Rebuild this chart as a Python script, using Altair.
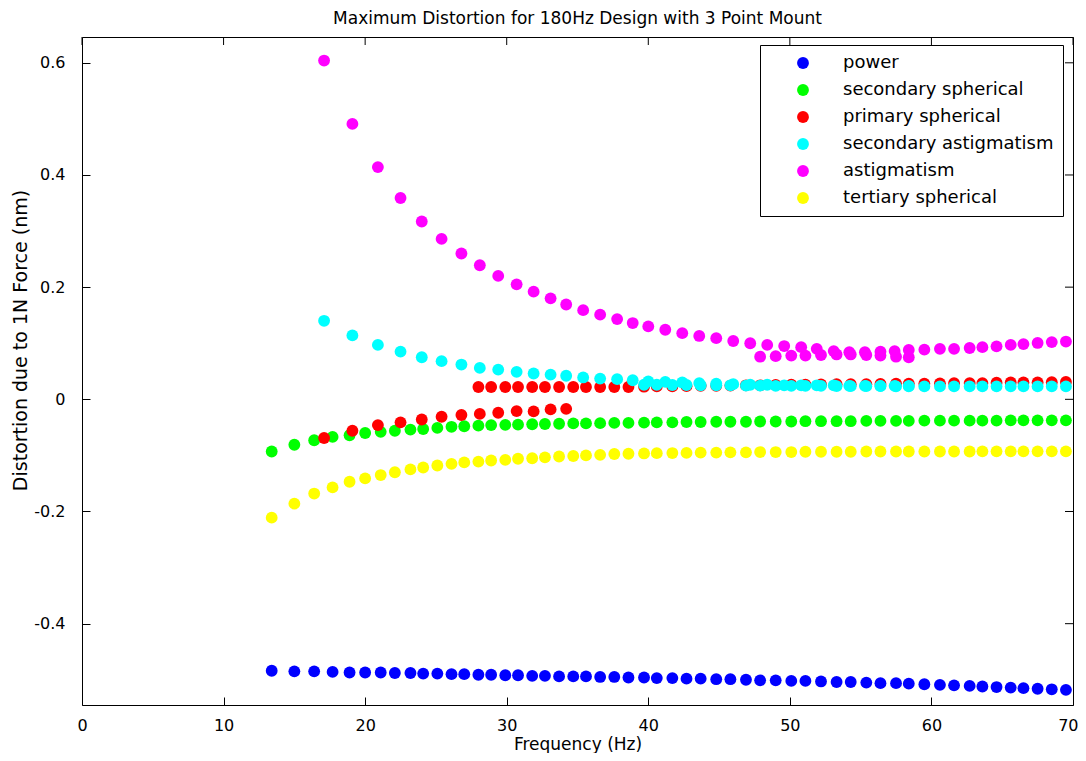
import altair as alt
import pandas as pd

SERIES = ["power", "secondary spherical", "primary spherical",
          "secondary astigmatism", "astigmatism", "tertiary spherical"]
COLORS = ["#0000ff", "#00ff00", "#ff0000", "#00ffff", "#ff00ff", "#ffff00"]

X_TICKS = [0, 10, 20, 30, 40, 50, 60, 70]
Y_TICKS = [-0.4, -0.2, 0, 0.2, 0.4, 0.6]

# frequency grids (Hz)
FREQ_DENSE = [13.4, 15.0, 16.4, 17.7, 18.9, 20.0, 21.1, 22.1, 23.2, 24.1,
              25.1, 26.1, 27.0, 28.0, 28.9, 29.9, 30.8, 31.8, 32.7, 33.7,
              34.7, 35.6, 36.6, 37.6, 38.6, 39.7, 40.6, 41.7, 42.7, 43.7,
              44.8, 45.8, 46.9, 47.9, 49.0, 50.1, 51.1, 52.2, 53.3, 54.3,
              55.4, 56.4, 57.5, 58.4, 59.5, 60.6, 61.6, 62.7, 63.6, 64.6,
              65.6, 66.5, 67.5, 68.5, 69.5]
FREQ_SPARSE = [17.1, 19.1, 20.9, 22.5, 24.0, 25.4, 26.8, 28.1, 29.4, 30.7,
               31.9, 33.1, 34.2, 35.4, 36.6, 37.8, 38.9, 40.0, 41.2, 42.4,
               43.6, 44.8, 46.0, 47.2, 48.4, 49.6, 50.8, 51.9, 53.1, 54.2,
               55.3, 56.4, 57.4, 58.4]

POWER = [-0.484, -0.485, -0.485, -0.486, -0.487, -0.487, -0.487, -0.488, -0.488, -0.489,
         -0.489, -0.490, -0.490, -0.491, -0.491, -0.492, -0.492, -0.493, -0.493, -0.494,
         -0.494, -0.494, -0.495, -0.495, -0.496, -0.496, -0.497, -0.497, -0.498, -0.498,
         -0.499, -0.499, -0.500, -0.501, -0.501, -0.502, -0.502, -0.503, -0.504, -0.504,
         -0.505, -0.506, -0.506, -0.507, -0.508, -0.509, -0.510, -0.511, -0.512, -0.513,
         -0.514, -0.515, -0.516, -0.517, -0.518]

SEC_SPHERICAL = [-0.093, -0.081, -0.073, -0.067, -0.064, -0.060, -0.058, -0.056, -0.054, -0.053,
                 -0.051, -0.049, -0.048, -0.047, -0.046, -0.0455, -0.045, -0.0445, -0.044, -0.0435,
                 -0.043, -0.043, -0.0425, -0.042, -0.042, -0.0415, -0.041, -0.041, -0.0405, -0.0405,
                 -0.040, -0.040, -0.040, -0.0395, -0.0395, -0.0395, -0.039, -0.039, -0.039, -0.039,
                 -0.0385, -0.0385, -0.0385, -0.0385, -0.038, -0.038, -0.038, -0.038, -0.038, -0.038,
                 -0.0375, -0.0375, -0.0375, -0.0375, -0.0375]

PRIM_SPHERICAL_SPARSE = [-0.069, -0.056, -0.046, -0.041, -0.036, -0.031, -0.028, -0.026,
                         -0.024, -0.021, -0.0215, -0.018, -0.017]
PRIM_SPHERICAL_DENSE = [0.022, 0.022, 0.022, 0.022, 0.022, 0.022, 0.022, 0.022, 0.022, 0.022,
                        0.022, 0.022, 0.0225, 0.023, 0.023, 0.0235, 0.024, 0.024, 0.0245, 0.025,
                        0.025, 0.0255, 0.026, 0.026, 0.0265, 0.027, 0.027, 0.027, 0.0275, 0.028,
                        0.028, 0.028, 0.0285, 0.029, 0.029, 0.029, 0.0295, 0.030, 0.030, 0.030,
                        0.0305, 0.031]

SEC_ASTIG_SPARSE = [0.140, 0.114, 0.097, 0.085, 0.075, 0.068, 0.062, 0.056, 0.053, 0.049,
                    0.046, 0.044, 0.042, 0.039, 0.037, 0.036, 0.034, 0.032, 0.031, 0.030,
                    0.029, 0.028, 0.027, 0.026, 0.026, 0.025, 0.025, 0.025, 0.025, 0.024,
                    0.024, 0.024, 0.024, 0.024]
SEC_ASTIG_DENSE = [0.026, 0.026, 0.0255, 0.0255, 0.025, 0.025, 0.025, 0.0245, 0.0245, 0.024,
                   0.024, 0.024, 0.024, 0.0235, 0.0235, 0.0235, 0.0235, 0.023, 0.023, 0.023,
                   0.023, 0.023, 0.023, 0.023, 0.023, 0.023, 0.023, 0.023, 0.023, 0.023]

ASTIG_SPARSE = [0.604, 0.491, 0.414, 0.359, 0.317, 0.286, 0.260, 0.239, 0.220, 0.205,
                0.192, 0.180, 0.169, 0.159, 0.151, 0.143, 0.136, 0.130, 0.124, 0.118,
                0.113, 0.109, 0.104, 0.100, 0.097, 0.095, 0.093, 0.090, 0.086, 0.084,
                0.084, 0.085, 0.086, 0.088]
ASTIG_DENSE = [0.076, 0.077, 0.078, 0.078, 0.079, 0.080, 0.080, 0.079, 0.078, 0.076,
               0.075, 0.0885, 0.090, 0.090, 0.0915, 0.093, 0.0945, 0.097, 0.0985, 0.1005,
               0.102, 0.103]

TER_SPHERICAL = [-0.211, -0.186, -0.168, -0.157, -0.147, -0.141, -0.135, -0.130, -0.125, -0.1215,
                 -0.118, -0.115, -0.1125, -0.111, -0.109, -0.108, -0.106, -0.105, -0.1035, -0.102,
                 -0.101, -0.100, -0.099, -0.0975, -0.097, -0.0965, -0.096, -0.0958, -0.0955, -0.095,
                 -0.095, -0.0945, -0.0945, -0.094, -0.094, -0.094, -0.0935, -0.0935, -0.0935, -0.0935,
                 -0.093, -0.093, -0.093, -0.093, -0.093, -0.093, -0.093, -0.093, -0.0928, -0.0928,
                 -0.0928, -0.0928, -0.0928, -0.0928, -0.0928]


def segment(name, freqs, values):
    return [{"freq": f, "value": v, "series": name} for f, v in zip(freqs, values)]


def sparse(values):
    return FREQ_SPARSE[:len(values)]


def dense_tail(values):
    return FREQ_DENSE[len(FREQ_DENSE) - len(values):]


rows = []
rows += segment("power", FREQ_DENSE, POWER)
rows += segment("secondary spherical", FREQ_DENSE, SEC_SPHERICAL)
rows += segment("primary spherical", sparse(PRIM_SPHERICAL_SPARSE), PRIM_SPHERICAL_SPARSE)
rows += segment("primary spherical", dense_tail(PRIM_SPHERICAL_DENSE), PRIM_SPHERICAL_DENSE)
rows += segment("secondary astigmatism", sparse(SEC_ASTIG_SPARSE), SEC_ASTIG_SPARSE)
rows += segment("secondary astigmatism", dense_tail(SEC_ASTIG_DENSE), SEC_ASTIG_DENSE)
rows += segment("astigmatism", sparse(ASTIG_SPARSE), ASTIG_SPARSE)
rows += segment("astigmatism", dense_tail(ASTIG_DENSE), ASTIG_DENSE)
rows += segment("tertiary spherical", FREQ_DENSE, TER_SPHERICAL)
df = pd.DataFrame(rows)

FONT = "DejaVu Sans"
W, H = 991, 668
TICK = 8
x_scale = alt.Scale(domain=[0, 70], nice=False, zero=False)
y_scale = alt.Scale(domain=[-0.545, 0.646], nice=False, zero=False)
y_label_expr = "datum.value == 0 ? '0' : (datum.value < 0 ? '-' : '') + format(abs(datum.value), '.1f')"

points = alt.Chart(df).mark_circle(size=140, opacity=1).encode(
    x=alt.X("freq:Q", scale=x_scale,
            axis=alt.Axis(orient="bottom", values=X_TICKS, title="Frequency (Hz)",
                          domain=False, grid=False, tickSize=TICK, offset=-TICK,
                          tickColor="black", labelPadding=12, labelFont=FONT,
                          labelFontSize=16, labelColor="black",
                          labelFlush=True, labelFlushOffset=5,
                          titleFont=FONT, titleFontSize=17, titleFontWeight="normal",
                          titleColor="black", titleBaseline="middle", titleY=47)),
    y=alt.Y("value:Q", scale=y_scale,
            axis=alt.Axis(orient="left", values=Y_TICKS, title="Distortion due to 1N Force (nm)",
                          labelExpr=y_label_expr,
                          domain=False, grid=False, tickSize=TICK, offset=-TICK,
                          tickColor="black", labelPadding=17, labelFont=FONT,
                          labelFontSize=16, labelColor="black",
                          titleFont=FONT, titleFontSize=19, titleFontWeight="normal",
                          titleColor="black", titleBaseline="middle", titleAngle=-90,
                          titleX=-70, titleY=303)),
    color=alt.Color("series:N", scale=alt.Scale(domain=SERIES, range=COLORS),
                    legend=alt.Legend(title=None, orient="none", legendX=678, legendY=8,
                                      strokeColor="black", fillColor="white",
                                      padding=9, cornerRadius=0,
                                      labelFont=FONT, labelFontSize=18, labelColor="black",
                                      labelLimit=400,
                                      symbolType="circle", symbolSize=140,
                                      symbolStrokeWidth=0, symbolOffset=25,
                                      labelOffset=31, rowPadding=9)),
)

top_ticks = alt.Chart(pd.DataFrame({"tick": X_TICKS})).mark_rule(
    color="black", strokeWidth=1
).encode(
    x=alt.X("tick:Q", scale=x_scale, axis=None),
    y=alt.value(0),
    y2=alt.value(TICK),
)

right_ticks = alt.Chart(pd.DataFrame({"tick": Y_TICKS})).mark_rule(
    color="black", strokeWidth=1
).encode(
    y=alt.Y("tick:Q", scale=y_scale, axis=None),
    x=alt.value(W - TICK),
    x2=alt.value(W),
)

chart = alt.layer(points, top_ticks, right_ticks).resolve_axis(
    x="independent", y="independent"
).properties(
    width=W, height=H,
    title=alt.TitleParams(text="Maximum Distortion for 180Hz Design with 3 Point Mount",
                          font=FONT, fontSize=17, fontWeight="normal", color="black",
                          anchor="middle", offset=9),
    autosize=alt.AutoSizeParams(type="none"),
    padding={"left": 74, "top": 29, "right": 5, "bottom": 48},
).configure_view(stroke="black", strokeWidth=1)

chart.save("out.html", embed_options={"renderer": "svg", "actions": False})
